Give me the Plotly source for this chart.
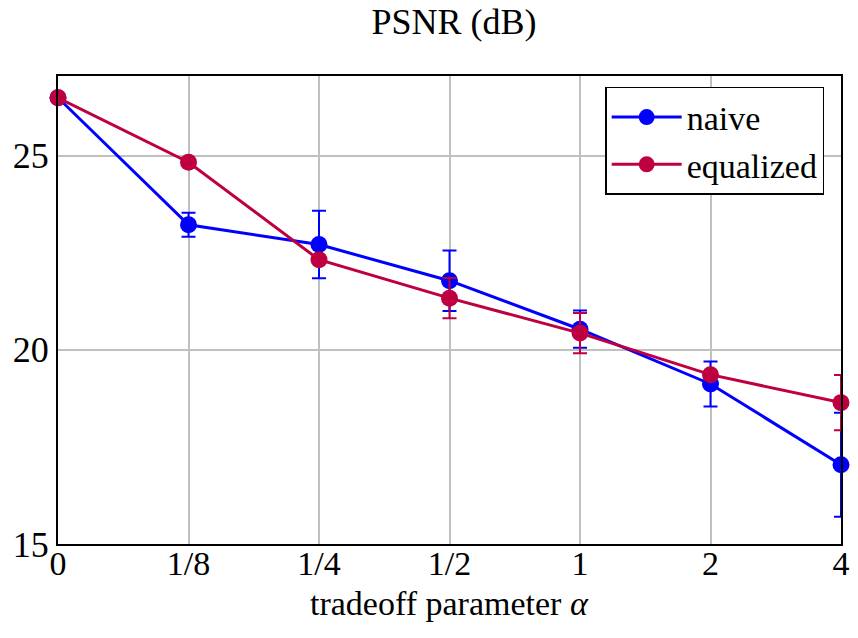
import plotly.graph_objects as go

categories = ["0", "1/8", "1/4", "1/2", "1", "2", "4"]
naive = [26.49, 23.22, 22.71, 21.78, 20.53, 19.12, 17.04]
naive_err = [0.0, 0.31, 0.87, 0.78, 0.48, 0.58, 1.34]
equalized = [26.49, 24.83, 22.32, 21.33, 20.43, 19.36, 18.64]
equalized_err = [0.0, 0.08, 0.08, 0.52, 0.52, 0.08, 0.71]

BLUE = "#0000FF"
RED = "#BF0040"
FONT = "Times New Roman, Liberation Serif, serif"

fig = go.Figure()
fig.add_trace(go.Scatter(
    x=categories, y=naive, name="naive", mode="lines+markers",
    line=dict(color=BLUE, width=3), marker=dict(color=BLUE, size=17),
    error_y=dict(type="data", array=naive_err, visible=True, color=BLUE, thickness=2, width=7),
    cliponaxis=False,
))
fig.add_trace(go.Scatter(
    x=categories, y=equalized, name="equalized", mode="lines+markers",
    line=dict(color=RED, width=3), marker=dict(color=RED, size=17),
    error_y=dict(type="data", array=equalized_err, visible=True, color=RED, thickness=2, width=7),
    cliponaxis=False,
))

fig.update_layout(
    width=858, height=638,
    margin=dict(l=58, r=8, t=76, b=94),
    paper_bgcolor="white", plot_bgcolor="white",
    font=dict(family=FONT, size=36, color="black"),
    title=dict(text="PSNR (dB)", x=(58 + 850) / 2 / 858, xanchor="center", y=0.966, yanchor="middle",
               font=dict(family=FONT, size=36)),
    showlegend=True,
    legend=dict(x=0.9785, y=0.9765, xanchor="right", yanchor="top",
                bordercolor="black", borderwidth=1.5, bgcolor="white",
                font=dict(family=FONT, size=34), itemwidth=70, tracegroupgap=0),
    xaxis=dict(type="category", range=[0, 6], showgrid=True, gridcolor="#c0c0c0", gridwidth=1.5,
               showline=True, linecolor="black", linewidth=2, mirror=True,
               ticks="", tickfont=dict(size=34), ticklabelstandoff=-12),
    yaxis=dict(range=[15, 27.05], tickvals=[15, 20, 25], ticktext=["15", "20", "25"],
               showgrid=True, gridcolor="#c0c0c0", gridwidth=1.5,
               showline=True, linecolor="black", linewidth=2, mirror=True,
               ticks="", tickfont=dict(size=36), zeroline=False),
    annotations=[dict(text="tradeoff parameter <i>α</i>", xref="paper", yref="paper",
                      x=0.5, y=-0.128, xanchor="center", yanchor="middle", showarrow=False,
                      font=dict(family=FONT, size=34))],
)

fig.write_html("out.html")
